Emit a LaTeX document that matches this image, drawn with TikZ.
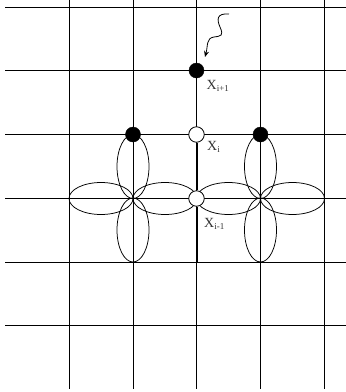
\documentclass[tikz,border=0pt]{standalone}
\usepackage{fontspec}
\setmainfont{Liberation Serif}
\usetikzlibrary{arrows.meta,positioning,shapes.geometric}
\newcommand{\subx}[1]{X\raisebox{-2.5pt}{\fontsize{9}{9}\selectfont #1}}

\begin{document}
\begin{tikzpicture}[
  x=1pt, y=-1pt,
  gridline/.style={draw=black, line width=1pt},
  hpetal/.style={draw, ellipse, inner sep=0pt, line width=0.75pt, minimum width=64pt, minimum height=32pt},
  vpetal/.style={draw, ellipse, inner sep=0pt, line width=0.75pt, minimum width=32pt, minimum height=64pt},
  full/.style={draw, circle, fill=black, inner sep=0pt, minimum size=15pt},
  empty/.style={draw, circle, fill=white, inner sep=0pt, line width=0.8pt, minimum size=15.5pt},
  lab/.style={inner sep=0pt, font=\fontsize{14}{14}\selectfont, text=black!80}
]
\useasboundingbox (0,0) rectangle (346,392);
\foreach \yy in {7,70.5,134.5,198.5,262,325.5}
  \draw[gridline] (5,\yy) -- (346,\yy);
\foreach \xx in {69,133,196.5,260.5,324}
  \draw[gridline] (\xx,0) -- (\xx,389);
% petals round the two crossings
\foreach \cx/\nm in {133/a,260.5/b} {
  \node[hpetal] (\nm l) at (\cx-32,198.5) {};
  \node[hpetal] (\nm r) at (\cx+32,198.5) {};
  \node[vpetal] (\nm u) at (\cx,166.5) {};
  \node[vpetal] (\nm d) at (\cx,230) {};
}
\coordinate (foot) at (196.5,262);
\coordinate (wstart) at (229,14);
\coordinate (wend) at (205,57);
\node[full] (top) at (196.5,70.5) {};
\node[full] (left) at (133,134.5) {};
\node[full] (right) at (260.5,134.5) {};
\node[empty] (xi) at (196.5,134.5) {};
\node[empty] (xm) at (196.5,198.5) {};
\draw[line width=2pt] (xi) -- (xm);
\draw[line width=2pt] (xm) -- (foot);
\node[lab, anchor=west] at (206.5,86) {\subx{i+1}};
\node[lab, anchor=west] at (207,147) {\subx{i}};
\node[lab, anchor=west] at (204,224) {\subx{i-1}};
\draw[-{Stealth[length=6pt,width=5pt]}, line width=0.8pt] (wstart) .. controls (216,13) and (217,20) .. (220,27)
  .. controls (224,36) and (221,36) .. (214,37) .. controls (206,38) and (208,46) .. (wend);
\end{tikzpicture}
\end{document}
